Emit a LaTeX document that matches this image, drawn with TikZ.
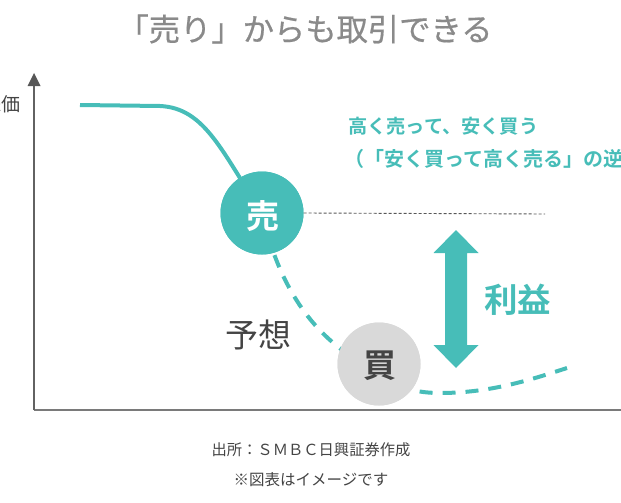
\documentclass[tikz,border=0pt]{standalone}
\usepackage{fontspec}
\setmainfont{Noto Sans CJK JP}
\newfontfamily\jp{Noto Sans CJK JP}
\newfontfamily\jpm[FakeBold=0.6]{Noto Sans CJK JP}
\newfontfamily\jpb{Noto Sans CJK JP Bold}
\definecolor{teal1}{HTML}{47BDB8}
\definecolor{gtitle}{HTML}{8A8A8A}
\definecolor{dgray}{HTML}{444444}
\definecolor{axisg}{HTML}{7A7A7A}
\definecolor{cgray}{HTML}{D9D9D9}
\begin{document}
\begin{tikzpicture}[x=1pt,y=-1pt,
  fs/.style={font=\jp\fontsize{#1}{#1}\selectfont},
  fsm/.style={font=\jpm\fontsize{#1}{#1}\selectfont},
  fsb/.style={font=\jpb\fontsize{#1}{#1}\selectfont},
  ball/.style={circle,minimum size=83pt,inner sep=0pt},
  curve/.style={teal1,line width=4pt},
  txt/.style={inner sep=0pt}]
\useasboundingbox (0,0) rectangle (621,503);
\clip (0,0) rectangle (621,503);
% title
\node[txt,fsm=31.3,text=gtitle] (title) at (305,29) {「売り」からも取引できる};
% axes
\coordinate (o) at (34,410);
\coordinate (ytop) at (34,86);
\coordinate (xend) at (622,410);
\draw[axisg,line width=2pt] (o) -- (xend);
\draw[axisg!80!black,line width=1.4pt] (o) -- (ytop);
\fill[dgray!90] (27.5,86) -- (40.5,86) -- (34,73) -- cycle;
\node[txt,fs=19,text=dgray,anchor=east] (yl) at (21,104) {株価};
% curve
\node[ball,fill=teal1] (sell) at (262,213) {};
\node[ball,fill=cgray] (buy) at (379,364) {};
\coordinate (c0) at (80,105);
\coordinate (c1) at (160,106);
\coordinate (cend) at (567,368);
\draw[curve] (c0) -- (c1) .. controls (205,108) and (222,152) .. (sell.center);
\draw[curve,dash pattern=on 13pt off 10pt,dash phase=2pt]
  (sell.center) .. controls (275,270) and (300,320) .. (345,352)
  .. controls (380,378) and (400,393) .. (440,393)
  .. controls (490,393) and (530,380) .. (cend);
% redraw balls on top
\node[ball,fill=teal1] (sell2) at (sell) {};
\node[ball,fill=cgray] (buy2) at (buy) {};
\node[txt,fsb=33,text=white] (selltxt) at (263,216) {売};
\node[txt,fsb=33,text=dgray] (buytxt) at (380,366) {買};
% dotted line
\coordinate (dend) at (545,214);
\draw[dgray!90,line width=0.9pt,dash pattern=on 3pt off 2pt] (sell.east) -- (dend);
% profit arrow
\fill[teal1] (456,230) -- (478.5,253) -- (467,253) -- (467,345) -- (478.5,345)
  -- (456,368) -- (433.5,345) -- (445,345) -- (445,253) -- (433.5,253) -- cycle;
\node[txt,fsb=33.5,text=teal1,anchor=west] (profit) at (484,300) {利益};
% labels
\node[txt,fs=33,text=dgray] (yoso) at (258,335) {予想};
\node[txt,fsb=19.2,text=teal1,anchor=west] (n1) at (348,126) {高く売って、安く買う};
\node[txt,fsb=20,text=teal1,anchor=west] (n2) at (344,159) {（「安く買って高く売る」の逆）};
% footnotes
\node[txt,fs=15.3,text=dgray] (src) at (311,450) {出所：ＳＭＢＣ日興証券作成};
\node[txt,fs=15.5,text=dgray] (memo) at (311,480) {※図表はイメージです};
\end{tikzpicture}
\end{document}
